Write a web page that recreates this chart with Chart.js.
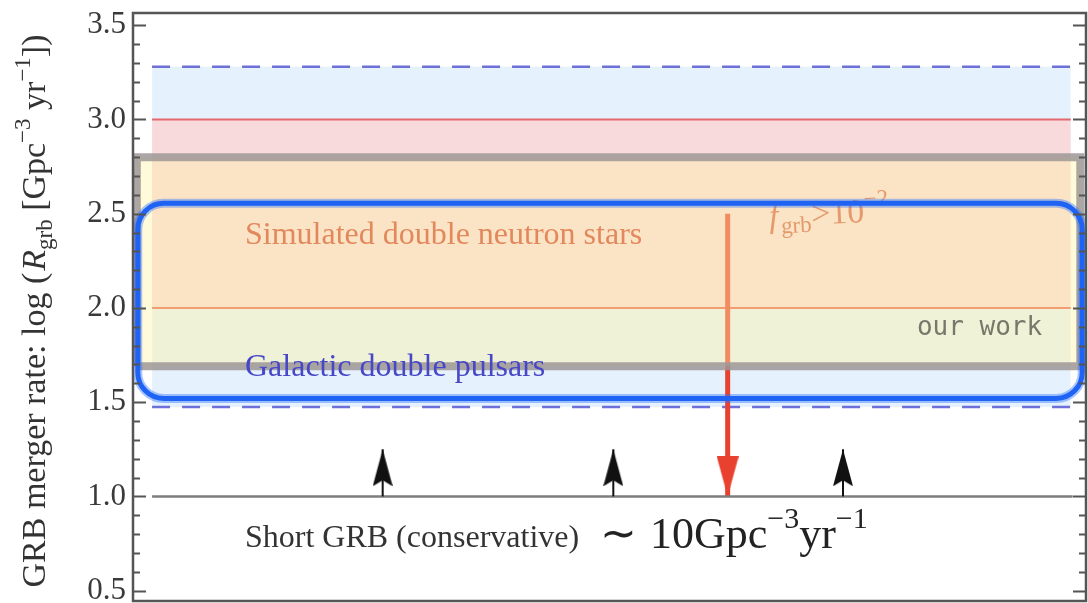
<!DOCTYPE html>
<html>
<head>
<meta charset="utf-8">
<script src="https://cdn.jsdelivr.net/npm/chart.js@4.4.1/dist/chart.umd.min.js"></script>
<style>
  html, body { margin: 0; padding: 0; background: #fff; }
  #wrap { width: 1088px; height: 603px; position: relative; }
</style>
</head>
<body>
<div id="wrap"><canvas id="chart"></canvas></div>
<script>
"use strict";

// axis: log of the merger rate
const yTicks = [0.5, 1.0, 1.5, 2.0, 2.5, 3.0, 3.5];
const yMinorStep = 0.1;
const yRange = [0.445, 3.565];
const xRange = [0, 100];

// horizontal extent of each band, in % of the panel
const bandSpan = [2.0, 98.4];
const boxSpan = [0.4, 99.4];
const fgrbSpan = [0.5, 99.6];
const shortGrbSpan = [2.0, 98.6];

// estimates (log Gpc^-3 yr^-1)
const pulsarRange = [1.475, 3.28];     // Galactic double pulsars
const simulatedRange = [2.0, 3.0];     // Simulated double neutron stars
const ourWorkRange = [1.69, 2.80];     // our work
const fgrbRange = [1.52, 2.555];       // f_grb > 10^-2
const shortGrbRate = 1.0;              // Short GRB (conservative)
const lowerLimitX = [26.2, 50.4, 74.5];
const lowerLimitTip = 1.25;
const fgrbArrowX = 62.4;
const fgrbArrowFrom = 2.5;

const SERIF = "'Liberation Serif', 'Times New Roman', serif";

function hline(span, value) {
  return [{ x: span[0], y: value }, { x: span[1], y: value }];
}

function makeHead(color, w, h, up, notch) {
  const c = document.createElement("canvas");
  c.width = w;
  c.height = h * 2;
  const g = c.getContext("2d");
  g.fillStyle = color;
  g.beginPath();
  if (up) {
    g.moveTo(w / 2, h);
    g.lineTo(w, 2 * h);
    g.lineTo(w / 2, 2 * h - notch);
    g.lineTo(0, 2 * h);
  } else {
    g.moveTo(w / 2, h);
    g.lineTo(w, 0);
    g.lineTo(w / 2, notch);
    g.lineTo(0, 0);
  }
  g.closePath();
  g.fill();
  return c;
}

const upHead = makeHead("#111", 20, 37, true, 6);
const downHead = makeHead("#e8412f", 22, 40, false, 0);

const datasets = [
  {
    // blue band top (dashed) + fill
    data: hline(bandSpan, pulsarRange[1]),
    borderColor: "#6d70d9",
    borderWidth: 2.5,
    borderDash: [18, 12],
    backgroundColor: "rgba(175, 212, 246, 0.33)",
    fill: { value: pulsarRange[0] },
    order: 20
  },
  {
    data: hline(bandSpan, pulsarRange[0]),
    borderColor: "#6d70d9",
    borderWidth: 2.5,
    borderDash: [18, 12],
    fill: false,
    order: 19
  },
  {
    // pink band
    data: hline(bandSpan, simulatedRange[1]),
    borderColor: "rgba(226, 90, 95, 0.9)",
    borderWidth: 2,
    backgroundColor: "rgba(255, 210, 210, 0.75)",
    fill: { value: simulatedRange[0] },
    order: 18
  },
  {
    data: hline(bandSpan, simulatedRange[0]),
    borderColor: "rgba(232, 80, 60, 0.9)",
    borderWidth: 2,
    fill: false,
    order: 17
  },
  {
    // red arrow
    data: [{ x: fgrbArrowX, y: fgrbArrowFrom }, { x: fgrbArrowX, y: shortGrbRate }],
    borderColor: "#e8412f",
    borderWidth: 5,
    pointRadius: [0, 5],
    pointStyle: downHead,
    fill: false,
    order: 16
  },
  {
    // our work fill
    data: hline(boxSpan, ourWorkRange[1]),
    borderWidth: 0,
    backgroundColor: "rgba(255, 243, 165, 0.42)",
    fill: { value: ourWorkRange[0] },
    order: 15
  },
  {
    // our work outline
    data: [
      { x: boxSpan[0], y: ourWorkRange[0] },
      { x: boxSpan[0], y: ourWorkRange[1] },
      { x: boxSpan[1], y: ourWorkRange[1] },
      { x: boxSpan[1], y: ourWorkRange[0] },
      { x: boxSpan[0], y: ourWorkRange[0] }
    ],
    borderColor: "rgba(158, 150, 150, 0.85)",
    borderWidth: 8,
    fill: false,
    order: 14
  },
  {
    data: hline(shortGrbSpan, shortGrbRate),
    borderColor: "#7d7d7d",
    borderWidth: 2.5,
    fill: false,
    order: 13
  }
];

lowerLimitX.forEach((xv) => {
  datasets.push({
    data: [{ x: xv, y: shortGrbRate }, { x: xv, y: lowerLimitTip }],
    borderColor: "#111",
    borderWidth: 2,
    pointRadius: [0, 5],
    pointStyle: upHead,
    fill: false,
    order: 5
  });
});

function drawRich(ctx, parts, x, y) {
  let cx = x;
  parts.forEach((p) => {
    ctx.font = p.font;
    ctx.fillText(p.text, cx, y + (p.dy || 0));
    cx += ctx.measureText(p.text).width + (p.gap || 0);
  });
  return cx - x;
}

function measureRich(ctx, parts) {
  let w = 0;
  parts.forEach((p) => {
    ctx.font = p.font;
    w += ctx.measureText(p.text).width + (p.gap || 0);
  });
  return w;
}

const decorPlugin = {
  id: "decor",
  beforeDraw(chart) {
    const { ctx } = chart;
    ctx.save();
    ctx.fillStyle = "#fff";
    ctx.fillRect(0, 0, chart.width, chart.height);
    ctx.restore();
  },
  afterDatasetsDraw(chart) {
    const { ctx, chartArea: area } = chart;
    const xs = chart.scales.x;
    const ys = chart.scales.y;
    const px = (v) => xs.getPixelForValue(v);
    const py = (v) => ys.getPixelForValue(v);

    ctx.save();
    ctx.textBaseline = "alphabetic";
    ctx.textAlign = "left";

    // f_grb > 10^-2 (partly hidden under the blue box)
    ctx.save();
    ctx.translate(px(66.8), py(2.43));
    ctx.rotate(-0.05);
    ctx.fillStyle = "#e49a6c";
    drawRich(ctx, [
      { text: "f", font: `italic 34px ${SERIF}` , gap: 2 },
      { text: "grb", font: `23px ${SERIF}`, dy: 7 },
      { text: ">10", font: `34px ${SERIF}` },
      { text: "−2", font: `23px ${SERIF}`, dy: -16 }
    ], 0, 0);
    ctx.restore();

    // blue rounded box
    const bx0 = px(fgrbSpan[0]);
    const bx1 = px(fgrbSpan[1]);
    const by0 = py(fgrbRange[1]);
    const by1 = py(fgrbRange[0]);
    ctx.beginPath();
    ctx.roundRect(bx0, by0, bx1 - bx0, by1 - by0, 26);
    ctx.strokeStyle = "rgba(40, 110, 255, 0.4)";
    ctx.lineWidth = 9;
    ctx.stroke();
    ctx.strokeStyle = "#1f63f5";
    ctx.lineWidth = 5;
    ctx.stroke();

    // labels
    ctx.fillStyle = "#e2885c";
    ctx.font = `32px ${SERIF}`;
    ctx.fillText("Simulated double neutron stars", px(11.75), py(2.34));

    ctx.fillStyle = "#4747c8";
    ctx.fillText("Galactic double pulsars", px(11.75), py(1.64));

    ctx.fillStyle = "#77776a";
    ctx.font = "26px 'DejaVu Sans Mono', monospace";
    ctx.textAlign = "right";
    ctx.fillText("our work", px(95.4), py(1.855));
    ctx.textAlign = "left";

    ctx.fillStyle = "#333";
    ctx.font = `32px ${SERIF}`;
    ctx.fillText("Short GRB (conservative)", px(11.75), py(0.733));

    ctx.fillStyle = "#222";
    drawRich(ctx, [
      { text: "∼ ", font: `44px ${SERIF}`, gap: 2 },
      { text: "10Gpc", font: `44px ${SERIF}` },
      { text: "−3", font: `30px ${SERIF}`, dy: -20 },
      { text: "yr", font: `44px ${SERIF}` },
      { text: "−1", font: `30px ${SERIF}`, dy: -20 }
    ], px(49.0), py(0.728));

    // frame with inward ticks on both sides
    ctx.strokeStyle = "#555";
    ctx.lineWidth = 2;
    for (let v = yTicks[0]; v <= yTicks[yTicks.length - 1] + 1e-9; v += yMinorStep) {
      const major = Math.abs(v * 2 - Math.round(v * 2)) < 1e-6;
      const len = major ? 13 : 7;
      const yy = Math.round(py(v)) + 0.5;
      ctx.beginPath();
      ctx.moveTo(area.left, yy);
      ctx.lineTo(area.left + len, yy);
      ctx.moveTo(area.right, yy);
      ctx.lineTo(area.right - len, yy);
      ctx.stroke();
    }
    ctx.lineWidth = 2.5;
    ctx.strokeRect(area.left, area.top, area.right - area.left, area.bottom - area.top);

    // y title
    const title = [
      { text: "GRB merger rate: log (", font: `34px ${SERIF}`, gap: 2 },
      { text: "R", font: `italic 34px ${SERIF}` },
      { text: "grb", font: `23px ${SERIF}`, dy: 7 },
      { text: " [Gpc", font: `34px ${SERIF}` },
      { text: "−3", font: `23px ${SERIF}`, dy: -15 },
      { text: " yr", font: `34px ${SERIF}` },
      { text: "−1", font: `23px ${SERIF}`, dy: -15 },
      { text: "])", font: `34px ${SERIF}` }
    ];
    ctx.fillStyle = "#333";
    ctx.translate(45, 311);
    ctx.rotate(-Math.PI / 2);
    drawRich(ctx, title, -measureRich(ctx, title) / 2, 0);
    ctx.restore();
  }
};

new Chart(document.getElementById("chart"), {
  type: "line",
  data: { datasets },
  options: {
    responsive: true,
    maintainAspectRatio: false,
    animation: false,
    devicePixelRatio: 1,
    layout: { autoPadding: false, padding: { top: 13, right: 2, bottom: 2, left: 0 } },
    elements: {
      point: { radius: 0, hoverRadius: 0 },
      line: { tension: 0, borderCapStyle: "butt" }
    },
    plugins: {
      legend: { display: false },
      tooltip: { enabled: false }
    },
    scales: {
      x: { type: "linear", min: xRange[0], max: xRange[1], display: false },
      y: {
        type: "linear",
        min: yRange[0],
        max: yRange[1],
        afterFit: (scale) => {
          scale.width = 133;
          scale.paddingTop = 0;
          scale.paddingBottom = 0;
        },
        afterBuildTicks: (scale) => { scale.ticks = yTicks.map((value) => ({ value })); },
        grid: { display: false, drawTicks: false },
        border: { display: false },
        ticks: {
          autoSkip: false,
          padding: 7,
          color: "#3a3a3a",
          font: { family: "Liberation Serif", size: 31 },
          callback: (v) => Number(v).toFixed(1)
        }
      }
    }
  },
  plugins: [decorPlugin]
});
</script>
</body>
</html>
